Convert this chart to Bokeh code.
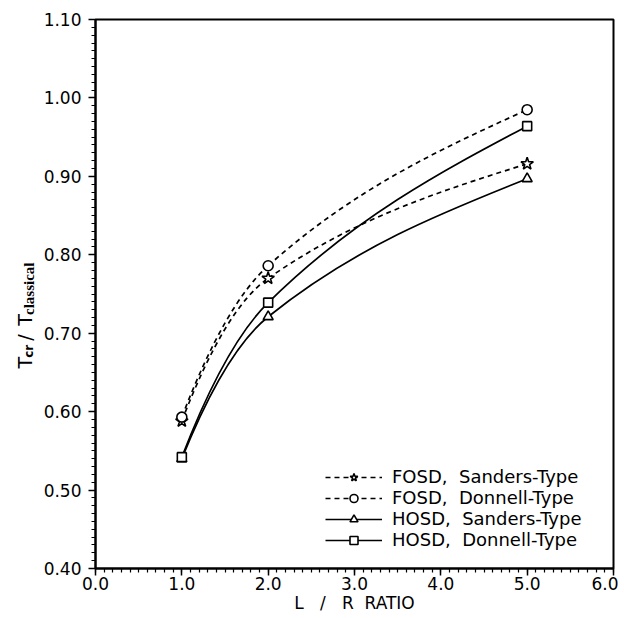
import numpy as np
from bokeh.plotting import figure
from bokeh.layouts import row
from bokeh.models import (Range1d, FixedTicker, Legend, LegendItem,
                          ColumnDataSource)
from bokeh.core.properties import value
from bokeh.embed import file_html
from bokeh.resources import INLINE

# ---------------- data ----------------
lr_ratio = [1.0, 2.0, 5.0]
fosd_sanders = [0.588, 0.770, 0.916]
fosd_donnell = [0.593, 0.786, 0.985]
hosd_sanders = [0.540, 0.721, 0.897]
hosd_donnell = [0.542, 0.739, 0.964]
series_labels = ["FOSD,  Sanders-Type", "FOSD,  Donnell-Type",
                 "HOSD,  Sanders-Type", "HOSD,  Donnell-Type"]
x_ticks = [0, 1, 2, 3, 4, 5, 6]
x_tick_labels = ["0.0", "1.0", "2.0", "3.0", "4.0", "5.0", "6.0"]
y_ticks = [0.4, 0.5, 0.6, 0.7, 0.8, 0.9, 1.0, 1.1]
y_tick_labels = ["0.40", "0.50", "0.60", "0.70", "0.80", "0.90", "1.00", "1.10"]
x_title = "L\u00a0\u00a0\u00a0/\u00a0\u00a0\u00a0R\u00a0\u00a0RATIO"
y_title_parts = ["T", "cr", "/", "T", "classical"]

FONT = "DejaVu Sans"
H = 615
LW = 40


def smooth_segments(xs, ys):
    """Bezier control points for a smooth concave connector through the data."""
    xs = np.asarray(xs, float)
    ys = np.asarray(ys, float)
    h = np.diff(xs)
    d = np.diff(ys) / h
    n = len(xs)
    m = np.zeros(n)
    for i in range(1, n - 1):
        m[i] = 2.0 / (1.0 / d[i - 1] + 1.0 / d[i]) if d[i - 1] * d[i] > 0 else 0.0
    m[0] = 2 * d[0] - m[1]
    m[-1] = (d[-1] + (2 * d[-1] - m[-2])) / 2.0
    return dict(x0=xs[:-1], y0=ys[:-1], x1=xs[1:], y1=ys[1:],
                cx0=xs[:-1] + h / 3, cy0=ys[:-1] + m[:-1] * h / 3,
                cx1=xs[1:] - h / 3, cy1=ys[1:] - m[1:] * h / 3)


# ---------- narrow left strip that carries the vertical y title ----------
yfig = figure(width=LW, height=H, output_backend="svg", toolbar_location=None,
              x_range=Range1d(0, LW), y_range=Range1d(0, H),
              min_border=0, x_axis_location=None, y_axis_location=None)
yfig.outline_line_color = None
yfig.xgrid.visible = False
yfig.ygrid.visible = False
# (baseline x px, page y px where the piece starts, font, size, style)
y_title_layout = [
    (24, 391, FONT, "19px", "normal"),
    (28, 379, FONT, "12px", "bold"),
    (24, 360, FONT, "19px", "normal"),
    (24, 343, FONT, "19px", "normal"),
    (28, 331, "Liberation Serif", "15px", "bold"),
]
for txt, (bx, py, fnt, fs, fst) in zip(y_title_parts, y_title_layout):
    yfig.text(x=[bx], y=[H - py], text=[txt], angle=np.pi / 2,
              text_font=value(fnt), text_font_size=fs, text_font_style=fst,
              text_align="left", text_baseline="alphabetic", text_color="black")

# ---------------- main plot ----------------
p = figure(width=618 - LW, height=H, output_backend="svg", toolbar_location=None,
           x_range=Range1d(0, 6), y_range=Range1d(0.4, 1.1),
           min_border_left=95 - LW, min_border_right=5, min_border_top=19,
           min_border_bottom=47)
p.background_fill_color = "white"
p.border_fill_color = "white"
p.outline_line_color = "black"
p.outline_line_width = 2
p.xgrid.visible = False
p.ygrid.visible = False

p.xaxis.ticker = FixedTicker(ticks=x_ticks,
                             minor_ticks=list(np.round(np.arange(0, 6.0001, 0.1), 2)))
p.xaxis.major_label_overrides = {t: l for t, l in zip(x_ticks, x_tick_labels)}
p.yaxis.ticker = FixedTicker(ticks=y_ticks,
                             minor_ticks=list(np.round(np.arange(0.4, 1.10001, 0.01), 2)))
p.yaxis.major_label_overrides = {t: l for t, l in zip(y_ticks, y_tick_labels)}
for ax in (p.xaxis[0], p.yaxis[0]):
    ax.axis_line_width = 2
    ax.axis_line_color = "black"
    ax.major_tick_line_width = 1.5
    ax.minor_tick_line_width = 1.2
    ax.major_tick_line_color = "black"
    ax.minor_tick_line_color = "black"
    ax.major_tick_in = 0
    ax.minor_tick_in = 0
    ax.major_tick_out = 7
    ax.minor_tick_out = 4
    ax.major_label_text_font = FONT
    ax.major_label_text_font_size = "17px"
    ax.major_label_text_color = "black"
p.yaxis.major_label_standoff = 7
p.xaxis.major_label_standoff = 1
p.xaxis.axis_label = x_title
p.xaxis.axis_label_text_font = FONT
p.xaxis.axis_label_text_font_size = "17px"
p.xaxis.axis_label_text_font_style = "normal"
p.xaxis.axis_label_text_color = "black"
p.xaxis.axis_label_standoff = 0

series = [
    (fosd_sanders, "star", 13, "5 4"),
    (fosd_donnell, "circle", 10, "5 4"),
    (hosd_sanders, "triangle", 10, "solid"),
    (hosd_donnell, "square", 9, "solid"),
]

line_renderers = []
for ys, mk, sz, dash in series:
    src = ColumnDataSource(smooth_segments(lr_ratio, ys))
    r = p.bezier(x0="x0", y0="y0", x1="x1", y1="y1", cx0="cx0", cy0="cy0",
                 cx1="cx1", cy1="cy1", source=src, line_color="black",
                 line_width=1.7, line_dash=dash)
    line_renderers.append(r)

marker_renderers = []
for ys, mk, sz, dash in series:
    r = p.scatter(lr_ratio, ys, marker=mk, size=sz, fill_color="white",
                  line_color="black", line_width=1.6)
    marker_renderers.append(r)

items = [LegendItem(label=lbl, renderers=[lr, mr])
         for lbl, lr, mr in zip(series_labels, line_renderers, marker_renderers)]
legend = Legend(items=items, location=(230, 18))
legend.glyph_width = 57
legend.glyph_height = 20
legend.label_height = 20
legend.label_standoff = 10
legend.spacing = 0
legend.padding = 0
legend.margin = 0
legend.border_line_color = None
legend.background_fill_alpha = 0
legend.label_text_font = FONT
legend.label_text_font_size = "18px"
legend.label_text_color = "black"
p.add_layout(legend)

layout = row(yfig, p, spacing=0)
open("out.html", "w").write(file_html(layout, INLINE))
